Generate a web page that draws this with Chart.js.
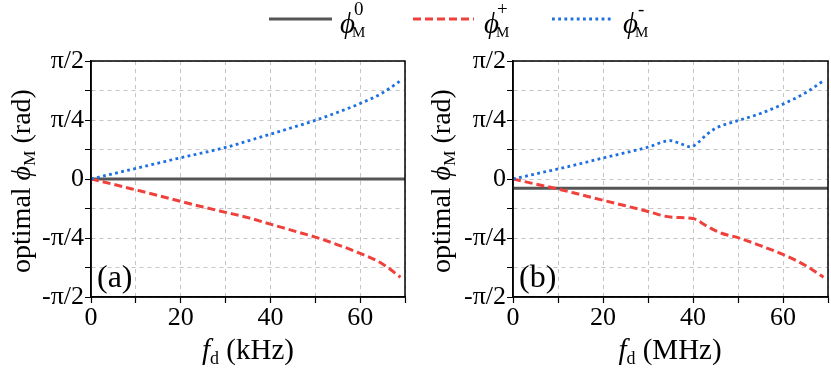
<!DOCTYPE html>
<html><head><meta charset="utf-8">
<script src="https://cdn.jsdelivr.net/npm/chart.js@4/dist/chart.umd.min.js"></script>
<style>
html,body{margin:0;padding:0;background:#fff}
body{width:831px;height:374px;overflow:hidden;position:relative;font-family:'Liberation Serif','Times New Roman',serif;color:#000}
canvas{position:absolute;top:0}
.t{position:absolute;white-space:nowrap;line-height:1}
.sb{font-size:0.62em;position:relative;top:0.3em}
.lp{position:absolute;line-height:1;font-size:29px;font-style:italic;top:9px}
.lu{position:absolute;line-height:1;font-size:19px;top:-1px}
.ld{position:absolute;line-height:1;font-size:15px;top:25px}
</style></head><body>
<canvas id="ca" width="415" height="374" style="left:0;width:415px;height:374px"></canvas>
<canvas id="cb" width="416" height="374" style="left:415px;width:416px;height:374px"></canvas>

<svg width="831" height="374" style="position:absolute;left:0;top:0">
  <line x1="269" y1="19" x2="332" y2="19" stroke="#555555" stroke-width="3"/>
  <line x1="413" y1="19" x2="474" y2="19" stroke="#f0403c" stroke-width="3" stroke-dasharray="8 4"/>
  <line x1="552" y1="19" x2="614" y2="19" stroke="#1e6fe0" stroke-width="2.8" stroke-dasharray="2.8 3.4"/>
</svg>
<div class="lp" style="left:340px">ϕ</div><div class="lu" style="left:354px">0</div><div class="ld" style="left:352px">M</div>
<div class="lp" style="left:484px">ϕ</div><div class="lu" style="left:497px">+</div><div class="ld" style="left:496px">M</div>
<div class="lp" style="left:623px">ϕ</div><div class="lu" style="left:638px">-</div><div class="ld" style="left:635px">M</div>

<div class="t" style="left:21px;top:181px;font-size:28px;transform:translate(-50%,-50%) rotate(-90deg)">optimal <i>ϕ</i><span class="sb">M</span> (rad)</div>
<div class="t" style="left:441px;top:181px;font-size:28px;transform:translate(-50%,-50%) rotate(-90deg)">optimal <i>ϕ</i><span class="sb">M</span> (rad)</div>
<div class="t" style="left:248px;top:349px;font-size:29px;transform:translate(-50%,-50%)"><i>f</i><span class="sb">d</span> (kHz)</div>
<div class="t" style="left:670px;top:349px;font-size:29px;transform:translate(-50%,-50%)"><i>f</i><span class="sb">d</span> (MHz)</div>
<div class="t" style="left:97px;top:260px;font-size:32px">(a)</div>
<div class="t" style="left:519px;top:260px;font-size:32px">(b)</div>

<script>
// ---- data (radians) ----
const xTickLabels = ['0','20','40','60'];
const yTickLabels = ['-π/2','-π/4','0','π/4','π/2'];

// panel (a): f_d in kHz
const xA      = [0, 5, 10, 15, 20, 25, 30, 35, 40, 45, 50, 55, 60, 65, 69];
const minusA  = [0, 0.071, 0.141, 0.212, 0.283, 0.350, 0.420, 0.507, 0.597, 0.687, 0.781, 0.888, 1.005, 1.147, 1.308];
const plusA   = [0, -0.071, -0.145, -0.220, -0.298, -0.373, -0.444, -0.514, -0.601, -0.687, -0.774, -0.876, -0.990, -1.131, -1.308];
const zeroXA  = [0, 70];
const zeroA   = [0, 0];

// panel (b): f_d in MHz
const xMinusB = [0, 5, 10, 15, 20, 25, 30, 35, 37, 39.5, 41, 43, 45, 47, 50, 55, 60, 65, 69];
const minusB  = [0, 0.067, 0.134, 0.204, 0.279, 0.350, 0.424, 0.511, 0.475, 0.428, 0.479, 0.589, 0.675, 0.723, 0.778, 0.872, 0.997, 1.147, 1.308];
const xPlusB  = [0, 5, 10, 15, 20, 25, 30, 35, 40, 43, 46, 50, 55, 60, 65, 69];
const plusB   = [0, -0.067, -0.134, -0.208, -0.283, -0.357, -0.432, -0.507, -0.526, -0.624, -0.715, -0.781, -0.888, -1.005, -1.151, -1.308];
const zeroXB  = [0, 70];
const zeroB   = [-0.124, -0.124];

const PI = Math.PI;
const pts = (xs, ys) => xs.map((x, i) => ({x, y: ys[i]}));
const FONT = {family: "'Liberation Serif','Times New Roman',serif", size: 26};

const frame = {id: 'frame', afterDatasetsDraw(c) {
  const a = c.chartArea, g = c.ctx;
  g.save(); g.setLineDash([]); g.strokeStyle = '#000'; g.lineWidth = 1.5;
  g.strokeRect(a.left, a.top, a.right - a.left, a.bottom - a.top);
  g.restore();
}};

function panel(id, yWidth, padRight, zx, zy, px, py, mx, my) {
  const gridCommon = {color: '#c4c4c4', lineWidth: 1, tickColor: '#000', tickWidth: 1.2,
                      tickLength: 6, tickBorderDash: [1, 0], drawTicks: true};
  const borderCommon = {display: true, color: '#000', width: 1.5, dash: [4, 4]};
  new Chart(document.getElementById(id), {
    type: 'line',
    data: {datasets: [
      {data: pts(zx, zy), borderColor: '#555555', borderWidth: 3, pointRadius: 0, order: 3},
      {data: pts(px, py), borderColor: '#f0403c', borderWidth: 3, borderDash: [8, 4],
       pointRadius: 0, cubicInterpolationMode: 'monotone', order: 2},
      {data: pts(mx, my), borderColor: '#1e6fe0', borderWidth: 2.8, borderDash: [2.8, 3.4],
       pointRadius: 0, cubicInterpolationMode: 'monotone', order: 1}
    ]},
    options: {
      responsive: false, animation: false, devicePixelRatio: 1,
      layout: {padding: {left: 0, right: padRight, top: 61, bottom: 0}},
      plugins: {legend: {display: false}, tooltip: {enabled: false}},
      scales: {
        x: {type: 'linear', min: 0, max: 70,
            ticks: {stepSize: 10, autoSkip: false, maxRotation: 0, color: '#000', font: FONT, padding: 0,
                    callback: v => xTickLabels.includes(String(v)) ? String(v) : ''},
            grid: gridCommon, border: borderCommon,
            afterFit: s => { s.height = 77; }},
        y: {type: 'linear', min: -PI / 2, max: PI / 2,
            afterBuildTicks: s => { s.ticks = [-4,-3,-2,-1,0,1,2,3,4].map(k => ({value: k * PI / 8})); },
            ticks: {autoSkip: false, color: '#000', font: FONT, padding: 1,
                    callback: v => { const k = Math.round(v / (PI / 8)); return k % 2 === 0 ? yTickLabels[k / 2 + 2] : ''; }},
            grid: gridCommon, border: borderCommon,
            afterFit: s => { s.width = yWidth; }}
      }
    },
    plugins: [frame]
  });
}

panel('ca', 91, 10, zeroXA, zeroA, xA, plusA, xA, minusA);
panel('cb', 98, 3, zeroXB, zeroB, xPlusB, plusB, xMinusB, minusB);
</script>
</body></html>
